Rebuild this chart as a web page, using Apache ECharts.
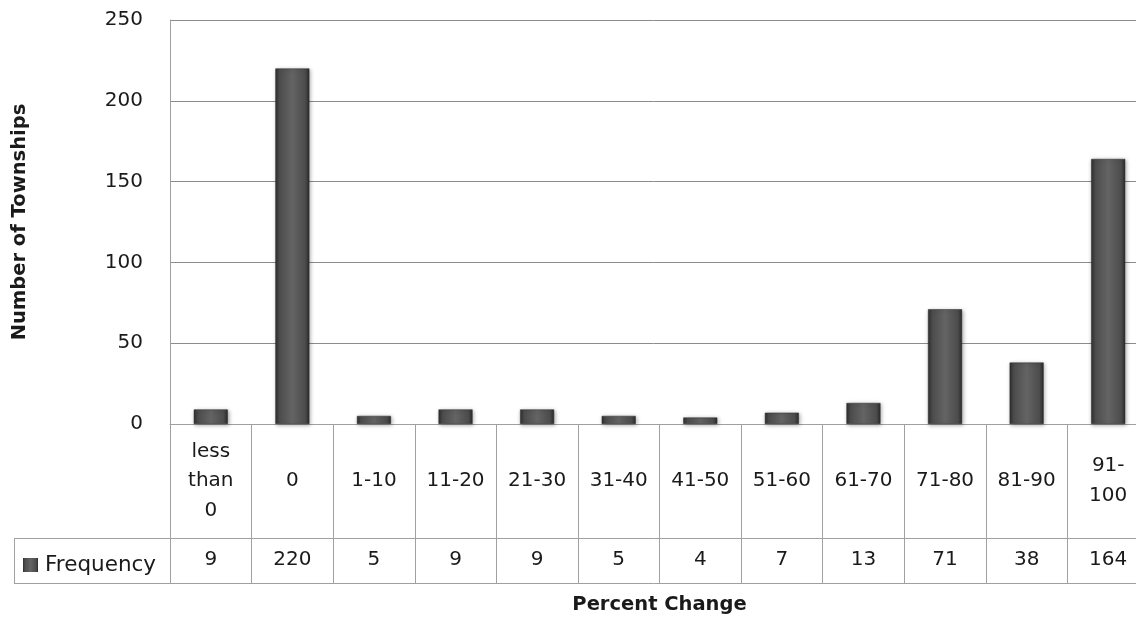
<!DOCTYPE html>
<html>
<head>
<meta charset="utf-8">
<script src="https://cdn.jsdelivr.net/npm/echarts@6/dist/echarts.min.js"></script>
<style>
html,body{margin:0;padding:0;background:#fff;}
#chart{width:1136px;height:619px;}
</style>
</head>
<body>
<div id="chart"></div>
<script>
const categories = ["less than 0","0","1-10","11-20","21-30","31-40","41-50","51-60","61-70","71-80","81-90","91-100"];
const frequency = [9,220,5,9,9,5,4,7,13,71,38,164];
const yTicks = {min:0, max:250, interval:50};
const seriesName = "Frequency";
const xTitle = "Percent Change";
const yTitle = "Number of Townships";

const FONT = "DejaVu Sans";
const LINE = "#a0a0a0";
const TXT = "#1a1a1a";

function wrapLabel(s){
  if (s === "less than 0") return "less\nthan\n0";
  if (s === "91-100") return "91-\n100";
  return s;
}

const chart = echarts.init(document.getElementById('chart'), null, {renderer:'canvas'});
const barGrad = new echarts.graphic.LinearGradient(0,0,1,0,[
  {offset:0, color:'#2e2e2e'},
  {offset:0.12, color:'#4c4c4c'},
  {offset:0.5, color:'#646464'},
  {offset:0.88, color:'#4c4c4c'},
  {offset:1, color:'#2a2a2a'}
]);

chart.setOption({
  animation:false,
  backgroundColor:'#fff',
  textStyle:{fontFamily:FONT},
  grid:{left:170, width:979, top:20, height:404, containLabel:false, outerBoundsMode:'none'},
  legend:{
    show:true, left:18, top:549, itemWidth:15, itemHeight:14, itemGap:0,
    icon:'rect',
    itemStyle:{borderWidth:0},
    textStyle:{fontFamily:FONT, fontSize:21.5, color:TXT, padding:[0,0,0,2]},
    data:[seriesName]
  },
  xAxis:[
    {
      type:'category', data:categories, position:'bottom',
      axisLine:{show:true, lineStyle:{color:LINE, width:1}},
      axisTick:{show:true, interval:0, length:159, alignWithLabel:false, lineStyle:{color:LINE}},
      axisLabel:{show:true, interval:0, margin:57, verticalAlign:'middle', fontFamily:FONT, fontSize:20, color:TXT, lineHeight:29.5, formatter:wrapLabel},
      splitLine:{show:false}
    },
    {
      type:'category', data:categories, position:'bottom', offset:114,
      axisLine:{show:true, lineStyle:{color:LINE, width:1}},
      axisTick:{show:false},
      axisLabel:{show:true, interval:0, margin:22, verticalAlign:'middle', fontFamily:FONT, fontSize:20, color:TXT,
        formatter:function(v, i){ return String(frequency[i]); }},
      splitLine:{show:false}
    },
    {
      type:'category', data:categories, position:'bottom', offset:159,
      axisLine:{show:true, lineStyle:{color:LINE, width:1}},
      axisTick:{show:false},
      axisLabel:{show:false},
      name:xTitle, nameLocation:'middle', nameGap:22,
      nameTextStyle:{fontFamily:FONT, fontSize:19.5, fontWeight:'bold', color:TXT, verticalAlign:'middle'}
    }
  ],
  yAxis:{
    type:'value', min:yTicks.min, max:yTicks.max, interval:yTicks.interval,
    axisLine:{show:true, lineStyle:{color:LINE}},
    axisTick:{show:false},
    axisLabel:{margin:27, fontFamily:FONT, fontSize:20, color:TXT},
    splitLine:{show:true, lineStyle:{color:'#8c8c8c', width:1}},
    name:yTitle, nameLocation:'middle', nameGap:150, nameRotate:90,
    nameTextStyle:{fontFamily:FONT, fontSize:19.5, fontWeight:'bold', color:TXT, verticalAlign:'middle'}
  },
  series:[{
    name:seriesName, type:'bar', data:frequency, xAxisIndex:0, barWidth:34,
    itemStyle:{color:barGrad, borderColor:'#2a2a2a', borderWidth:0.5,
      shadowBlur:4, shadowColor:'rgba(0,0,0,0.35)', shadowOffsetX:1, shadowOffsetY:1}
  }],
  graphic:[
    {type:'line', shape:{x1:14, y1:538.5, x2:170, y2:538.5}, style:{stroke:LINE, lineWidth:1}},
    {type:'line', shape:{x1:14, y1:583.5, x2:170, y2:583.5}, style:{stroke:LINE, lineWidth:1}},
    {type:'line', shape:{x1:14.5, y1:538, x2:14.5, y2:584}, style:{stroke:LINE, lineWidth:1}}
  ]
});
</script>
</body>
</html>
